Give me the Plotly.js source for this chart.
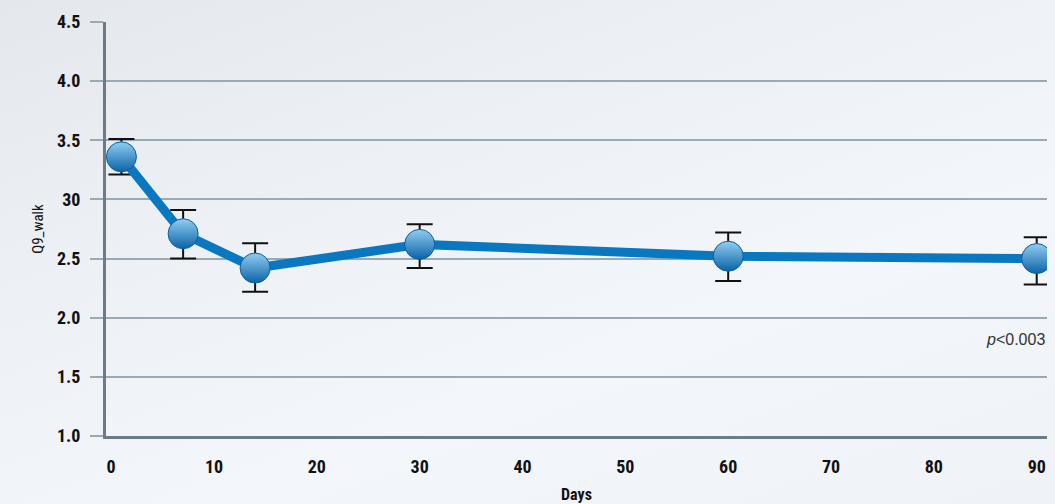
<!DOCTYPE html>
<html><head><meta charset="utf-8">
<script src="https://cdn.plot.ly/plotly-3.0.1.min.js"></script>
<style>
html,body{margin:0;padding:0;width:1055px;height:504px;overflow:hidden;
background:linear-gradient(160deg,#e4e7ec 0%,#eceff4 30%,#f3f6fb 65%,#eff2f6 100%);}
#chart{width:1055px;height:504px;}
</style></head><body>
<div id="chart"></div>
<script>
const days = [1, 7, 14, 30, 60, 90];
const q9walk = [3.36, 2.71, 2.42, 2.62, 2.52, 2.50];
const errPlus = [0.15, 0.20, 0.21, 0.17, 0.20, 0.18];
const errMinus = [0.15, 0.21, 0.20, 0.20, 0.21, 0.22];
const yTickVals = [1.0, 1.5, 2.0, 2.5, 3.0, 3.5, 4.0, 4.5];
const yTickText = ["1.0", "1.5", "2.0", "2.5", "30", "3.5", "4.0", "4.5"];
const xTickVals = [0, 10, 20, 30, 40, 50, 60, 70, 80, 90];

const fontFam = '"Liberation Sans Narrow", "Roboto Condensed", Roboto, Arial, sans-serif';

const trace = {
  x: days, y: q9walk, type: 'scatter', mode: 'lines+markers',
  line: {color: '#0a78c0', width: 9},
  marker: {size: 30, color: '#92cdf1',
    gradient: {type: 'vertical', color: '#0a63a8'},
    line: {color: '#0b5f9f', width: 1}},
  error_y: {type: 'data', symmetric: false, array: errPlus, arrayminus: errMinus,
    color: '#111', thickness: 2, width: 13},
  hoverinfo: 'none', showlegend: false
};

const layout = {
  width: 1055, height: 504,
  margin: {l: 106, r: 8, t: 22, b: 68},
  paper_bgcolor: 'rgba(0,0,0,0)', plot_bgcolor: 'rgba(0,0,0,0)',
  font: {family: fontFam, color: '#111'},
  xaxis: {range: [-0.5, 91], tickvals: xTickVals, showgrid: false, zeroline: false,
    showline: true, linecolor: '#6b7c88', linewidth: 3,
    ticks: 'outside', ticklen: 12, tickcolor: 'rgba(0,0,0,0)',
    tickfont: {size: 18, family: fontFam, color: '#111', weight: 'bold'},
    title: {text: 'Days', font: {size: 16, family: fontFam, color: '#111', weight: 'bold'}, standoff: 14}},
  yaxis: {range: [1.0, 4.5], tickvals: yTickVals, ticktext: yTickText,
    showgrid: true, gridcolor: '#9aaab5', gridwidth: 2, zeroline: false,
    showline: true, linecolor: '#6b7c88', linewidth: 3,
    ticks: 'outside', ticklen: 13, tickcolor: '#9aaab5', tickwidth: 2,
    ticklabelstandoff: 6,
    tickfont: {size: 18, family: fontFam, color: '#111', weight: 'bold'},
    title: {text: 'Q9_walk', font: {size: 15, family: fontFam, color: '#111'}, standoff: 10}},
  annotations: [{xref: 'paper', yref: 'y', x: 1.0, y: 1.82, xanchor: 'right', yanchor: 'middle',
    text: '<i>p</i><0.003', showarrow: false,
    font: {size: 16, family: '"Liberation Sans", Arial, sans-serif', color: '#333'}}]
};

Plotly.newPlot('chart', [trace], layout, {displayModeBar: false, staticPlot: true});
</script>
</body></html>
